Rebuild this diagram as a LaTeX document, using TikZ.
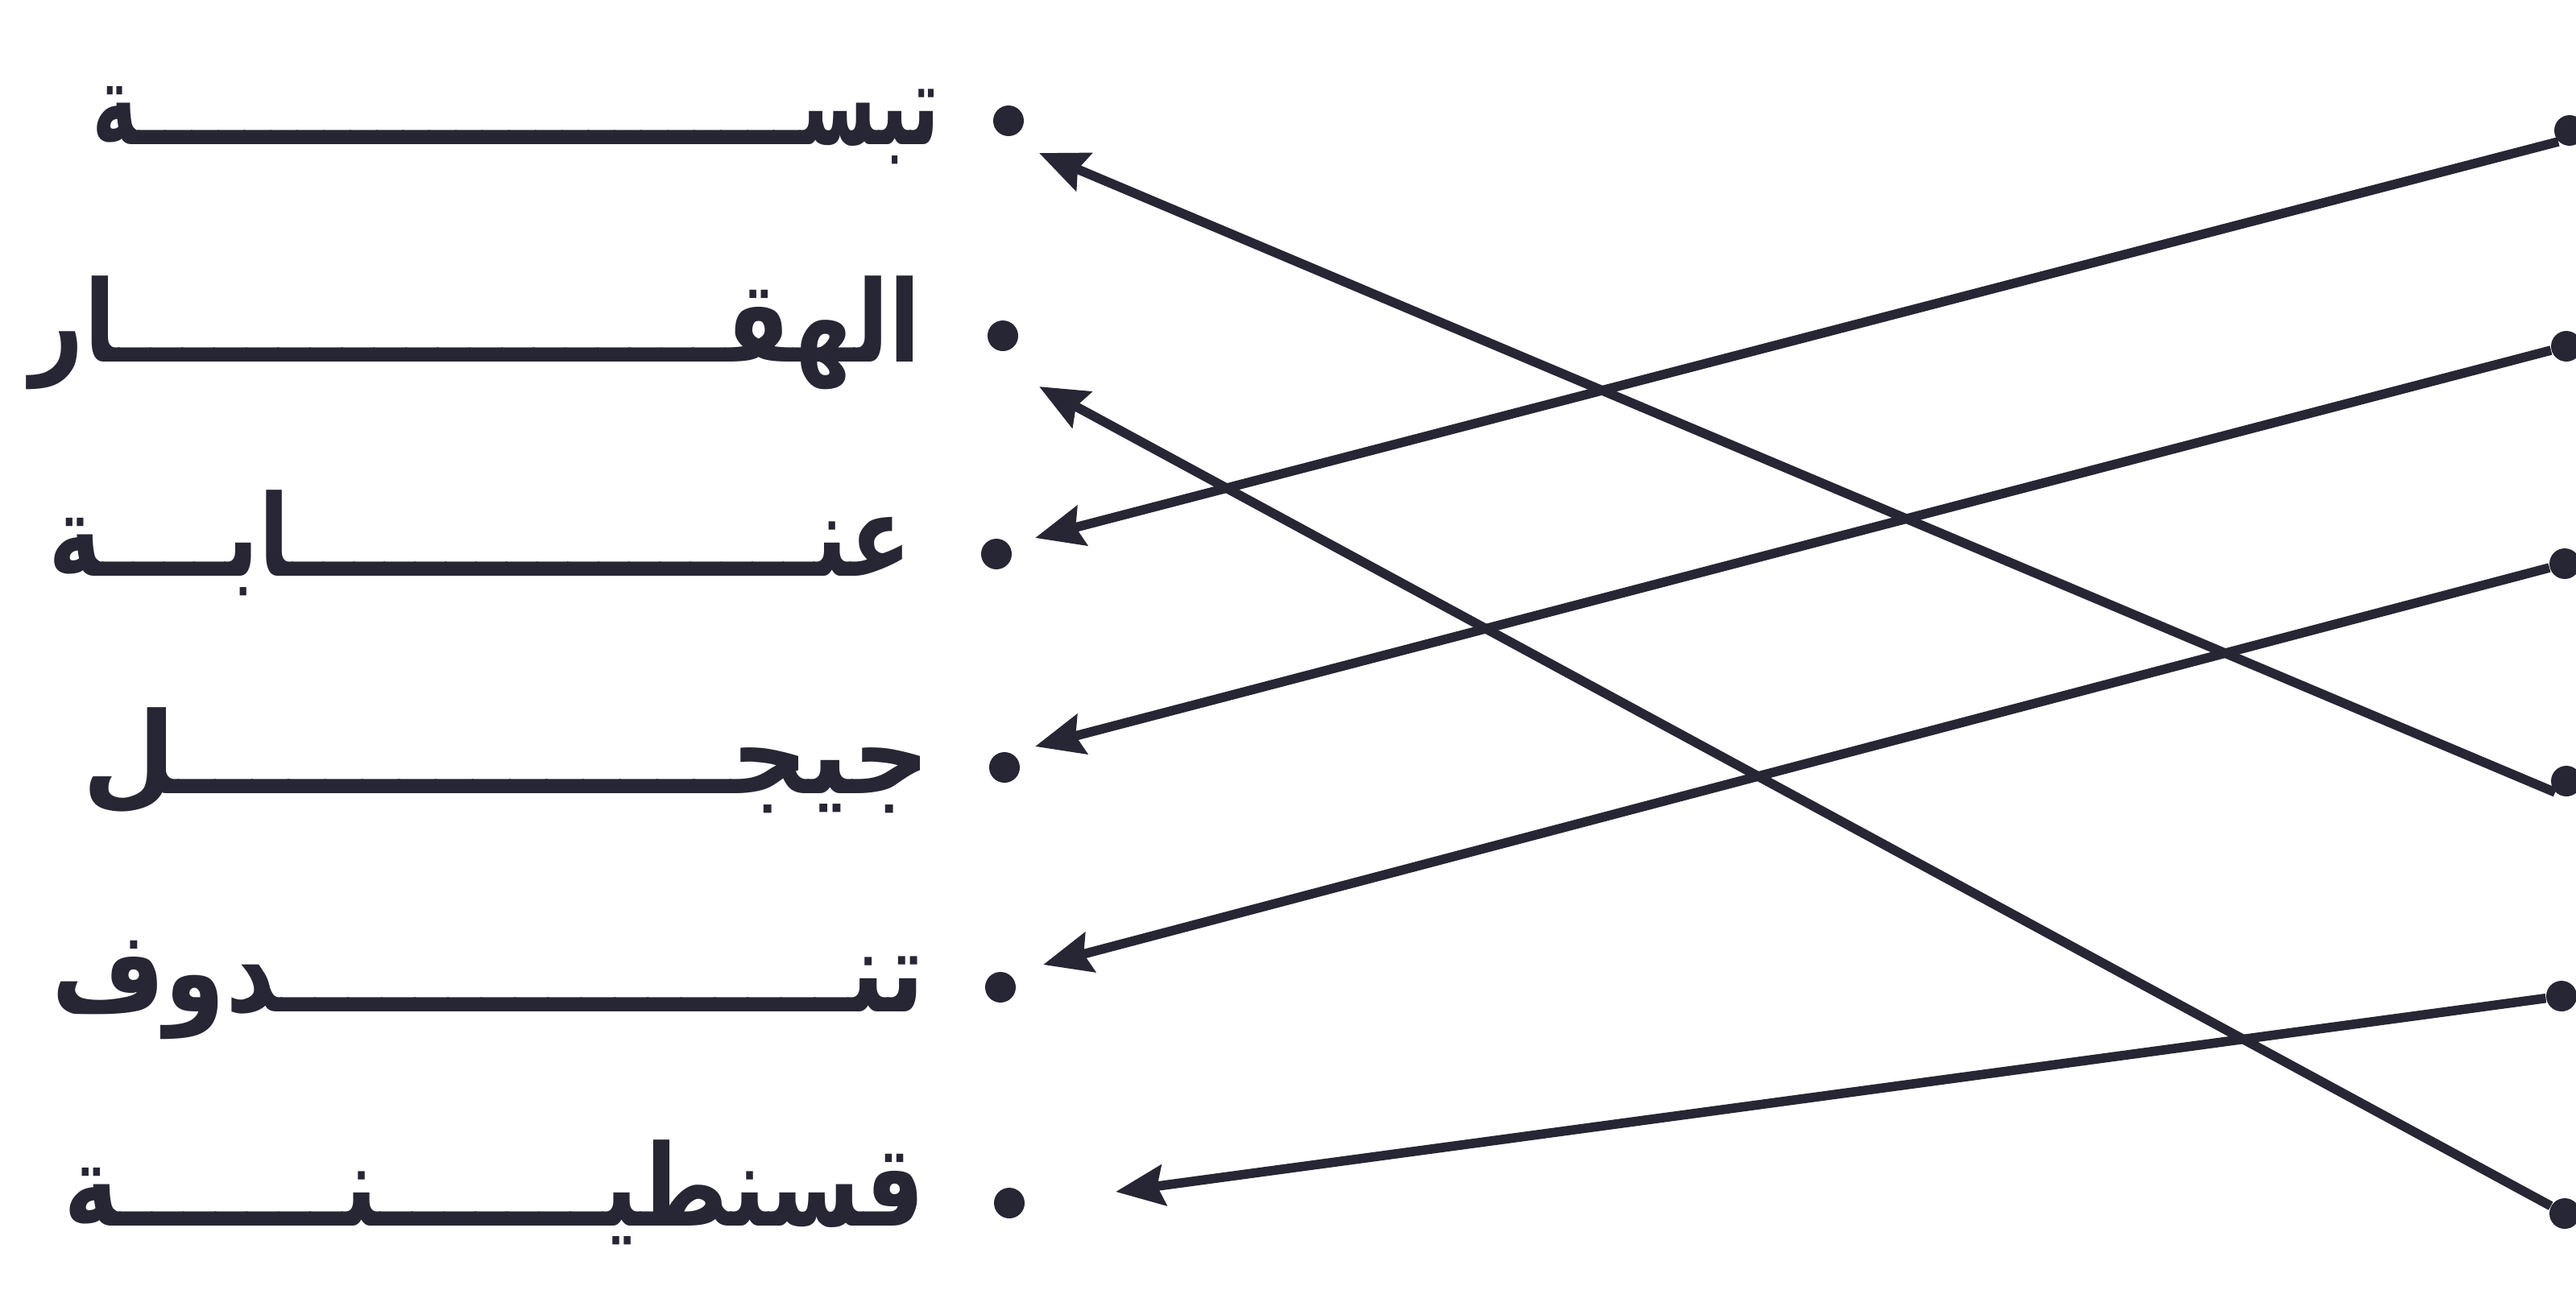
\documentclass[tikz,border=0pt]{standalone}
\usepackage{fontspec}
\usepackage{graphicx}
\usetikzlibrary{arrows.meta}
\TeXXeTstate=1
\newfontfamily\arabicfont[Script=Arabic]{DejaVu Sans}
\definecolor{inkA}{RGB}{38,38,52}
\newcommand{\cityname}[2]{\resizebox{#1}{\height}{\arabicfont\bfseries\fontsize{40}{48}\selectfont\beginR #2\endR}}
\tikzset{
	dotmark/.style={circle,fill=inkA,inner sep=0pt,minimum size=0.38cm},
	city/.style={anchor=base east,inner sep=0pt,text=inkA},
	link/.style={draw=inkA,line width=3.3pt,-{Stealth[length=0.6cm,width=0.5cm,inset=0.08cm]}}
}

\begin{document}
\begin{tikzpicture}
		\useasboundingbox[fill=white] (0,0) rectangle (31.98,-16.01);
		\node[city] (c1) at (11.67,-1.79) {\cityname{10.52cm}{تبســـــــــــــــــــــــــة}};
		\node[city] (c2) at (11.44,-4.49) {\cityname{11.06cm}{الهقـــــــــــــــــــار}};
		\node[city] (c3) at (11.32,-7.15) {\cityname{10.71cm}{عنـــــــــــــــــابــــة}};
		\node[city] (c4) at (11.55,-9.85) {\cityname{10.52cm}{جيجـــــــــــــــل}};
		\node[city] (c5) at (11.48,-12.56) {\cityname{10.83cm}{تنـــــــــــــــــدوف}};
		\node[city] (c6) at (11.48,-15.22) {\cityname{10.68cm}{قسنطيـــــــنـــــــة}};
		\node[dotmark] (l1) at (12.52,-1.50) {};
		\node[dotmark] (l2) at (12.45,-4.17) {};
		\node[dotmark] (l3) at (12.37,-6.88) {};
		\node[dotmark] (l4) at (12.47,-9.53) {};
		\node[dotmark] (l5) at (12.42,-12.26) {};
		\node[dotmark] (l6) at (12.53,-14.94) {};
		\node[dotmark] (r1) at (31.90,-1.62) {};
		\node[dotmark] (r2) at (31.86,-4.30) {};
		\node[dotmark] (r3) at (31.84,-7.00) {};
		\node[dotmark] (r4) at (31.86,-9.70) {};
		\node[dotmark] (r5) at (31.80,-12.37) {};
		\node[dotmark] (r6) at (31.84,-15.07) {};
		\coordinate (t1) at (12.90,-1.90);
		\coordinate (t2) at (12.90,-4.80);
		\coordinate (t3) at (12.85,-6.68);
		\coordinate (t4) at (12.85,-9.27);
		\coordinate (t5) at (12.95,-11.98);
		\coordinate (t6) at (13.85,-14.80);
		\draw[link] (r1.south west) -- (t3);
		\draw[link] (r2) -- (t4);
		\draw[link] (r3) -- (t5);
		\draw[link] (r4.south west) -- (t1);
		\draw[link] (r5) -- (t6);
		\draw[link] (r6) -- (t2);
\end{tikzpicture}
\end{document}
